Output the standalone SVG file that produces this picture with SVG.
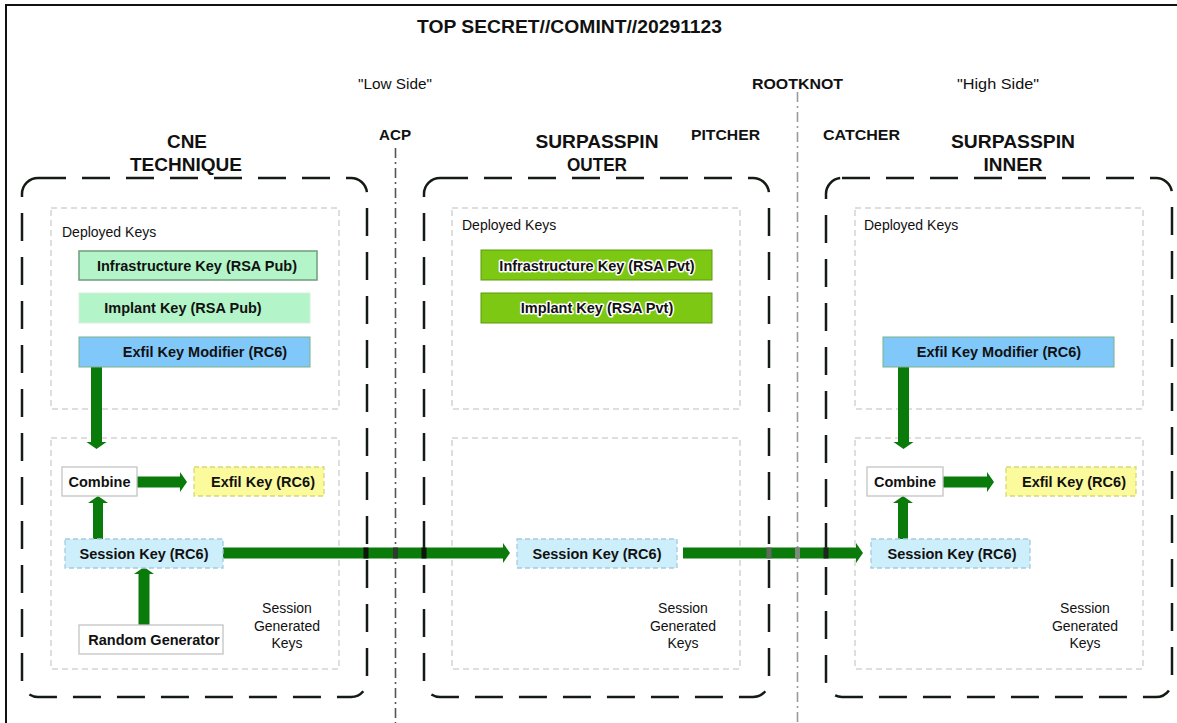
<svg xmlns="http://www.w3.org/2000/svg" width="1177" height="723" viewBox="0 0 1177 723">
  <style>
    .t { font-family: "Liberation Sans", Arial, sans-serif; fill: #111; }
    .b { font-weight: bold; }
    .hdr { font-size: 18px; font-weight: bold; text-anchor: middle; }
    .lbl { font-size: 15px; text-anchor: middle; }
    .key { font-size: 14.5px; font-weight: bold; text-anchor: middle; }
    .note { font-size: 14px; }
    .sgk { font-size: 14px; text-anchor: middle; }
    .halo { paint-order: stroke; stroke: #fff; stroke-width: 3px; stroke-linejoin: round; }
    .container { fill: none; stroke: #141a14; stroke-width: 2.5; stroke-dasharray: 28 16; }
    .zone { fill: #fff; stroke: #d4d4d4; stroke-width: 1.5; stroke-dasharray: 6 4; }
    .arrow { fill: #0a7a0a; }
    .sep-acp { stroke: #555; stroke-width: 1.6; stroke-dasharray: 10 4 2 4; fill: none; }
    .sep-rk { stroke: #9a9a9a; stroke-width: 1.6; stroke-dasharray: 10 4 2 4; fill: none; }
    .pub { fill: #b3f5c8; }
    .pvt { fill: #7cc812; stroke: #5c9a0c; stroke-width: 1; }
    .mod { fill: #80c8fa; stroke: #7ab08a; stroke-width: 1; }
    .sess { fill: #cdeefb; stroke: #a6cbe0; stroke-width: 1.3; stroke-dasharray: 5 3; }
    .exfil { fill: #fbfb9e; stroke: #d8d87a; stroke-width: 1.3; stroke-dasharray: 5 3; }
    .plain { fill: #fff; stroke: #c4c4c4; stroke-width: 1.3; }
  </style>

  <rect width="1177" height="723" fill="#fff"/>

  <!-- outer page frame (runs past the right and bottom edges) -->
  <rect x="6" y="5" width="1190" height="740" fill="none" stroke="#111" stroke-width="2"/>

  <!-- headings -->
  <g id="headings">
    <text class="t hdr" x="569.5" y="33" textLength="305" lengthAdjust="spacingAndGlyphs">TOP SECRET//COMINT//20291123</text>
    <text class="t lbl" x="395" y="89" textLength="74" lengthAdjust="spacingAndGlyphs">"Low Side"</text>
    <text class="t lbl b" x="797.5" y="89" textLength="91" lengthAdjust="spacingAndGlyphs">ROOTKNOT</text>
    <text class="t lbl" x="998" y="89" textLength="82" lengthAdjust="spacingAndGlyphs">"High Side"</text>
    <text class="t lbl b" x="395" y="140" textLength="32" lengthAdjust="spacingAndGlyphs">ACP</text>
    <text class="t lbl b" x="725.5" y="140" textLength="69" lengthAdjust="spacingAndGlyphs">PITCHER</text>
    <text class="t lbl b" x="861.5" y="140" textLength="77" lengthAdjust="spacingAndGlyphs">CATCHER</text>
    <text class="t hdr" x="187" y="148" textLength="40" lengthAdjust="spacingAndGlyphs">CNE</text>
    <text class="t hdr" x="186" y="171" textLength="112" lengthAdjust="spacingAndGlyphs">TECHNIQUE</text>
    <text class="t hdr" x="597" y="148" textLength="123" lengthAdjust="spacingAndGlyphs">SURPASSPIN</text>
    <text class="t hdr" x="597" y="171" textLength="60" lengthAdjust="spacingAndGlyphs">OUTER</text>
    <text class="t hdr" x="1013" y="148" textLength="124" lengthAdjust="spacingAndGlyphs">SURPASSPIN</text>
    <text class="t hdr" x="1013" y="171" textLength="59" lengthAdjust="spacingAndGlyphs">INNER</text>
  </g>

  <!-- trust boundaries -->
  <g id="boundaries">
    <line class="sep-acp" x1="395.5" y1="148" x2="395.5" y2="723"/>
    <line class="sep-rk" x1="797.5" y1="92" x2="797.5" y2="723"/>
  </g>

  <!-- system containers -->
  <g id="cne-technique">
    <rect class="container" x="22" y="178" width="345" height="519" rx="16"/>
    <rect class="zone" x="51" y="208" width="288" height="201"/>
    <rect class="zone" x="51" y="438" width="288" height="231"/>
    <text class="t note" x="62" y="237">Deployed Keys</text>
    <text class="t sgk" x="287" y="613">Session</text>
    <text class="t sgk" x="287" y="631">Generated</text>
    <text class="t sgk" x="287" y="648">Keys</text>
  </g>
  <g id="surpasspin-outer">
    <rect class="container" x="424" y="178" width="345" height="519" rx="16"/>
    <rect class="zone" x="452" y="208" width="288" height="201"/>
    <rect class="zone" x="452" y="438" width="288" height="231"/>
    <text class="t note" x="462" y="230">Deployed Keys</text>
    <text class="t sgk" x="683" y="613">Session</text>
    <text class="t sgk" x="683" y="631">Generated</text>
    <text class="t sgk" x="683" y="648">Keys</text>
  </g>
  <g id="surpasspin-inner">
    <rect class="container" x="826" y="178" width="346" height="519" rx="16"/>
    <rect class="zone" x="855" y="208" width="288" height="201"/>
    <rect class="zone" x="855" y="438" width="288" height="231"/>
    <text class="t note" x="864" y="230">Deployed Keys</text>
    <text class="t sgk" x="1085" y="613">Session</text>
    <text class="t sgk" x="1085" y="631">Generated</text>
    <text class="t sgk" x="1085" y="648">Keys</text>
  </g>

  <!-- key flow connectors -->
  <g id="connectors">
    <path class="arrow" d="M91 367 V442 H86.5 L96.5 449 L106.5 442 H102 V367 Z"/>
    <path class="arrow" d="M137 476.5 H180 V472 L187 482 L180 492 V487.5 H137 Z"/>
    <path class="arrow" d="M93 539 V503 H88 L98 496 L108 503 H103 V539 Z"/>
    <path class="arrow" d="M138.5 625 V574 H134 L144 567 L154 574 H149.5 V625 Z"/>
    <path class="arrow" d="M223 547.5 H503 V543 L510 553 L503 563 V558.5 H223 Z"/>
    <path class="arrow" d="M683 547.5 H856 V543 L863 553 L856 563 V558.5 H683 Z"/>
    <path class="arrow" d="M898 367 V442 H893.5 L903.5 449 L913.5 442 H909 V367 Z"/>
    <path class="arrow" d="M943 476.5 H987 V472 L994 482 L987 492 V487.5 H943 Z"/>
    <path class="arrow" d="M898 539 V503 H893 L903 496 L913 503 H908 V539 Z"/>
    <!-- boundary strokes passing over the session key channel -->
    <rect x="363.5" y="547.5" width="5" height="11" fill="#0c140c"/>
    <rect x="393" y="547.5" width="5" height="11" fill="#2e3a2e"/>
    <rect x="421.5" y="547.5" width="5" height="11" fill="#0c140c"/>
    <rect x="766.5" y="547.5" width="5" height="11" fill="#5e6a5e"/>
    <rect x="795" y="547.5" width="5" height="11" fill="#7e8a7e"/>
    <rect x="823.5" y="547.5" width="5" height="11" fill="#1c261c"/>
  </g>

  <!-- CNE technique keys -->
  <g id="cne-infrastructure-key">
    <rect x="79" y="251" width="238" height="29" fill="#b3f5c8" stroke="#6f9c7c" stroke-width="1.5"/>
    <text class="t key" x="197" y="270.5">Infrastructure Key (RSA Pub)</text>
  </g>
  <g id="cne-implant-key">
    <rect class="pub" x="79" y="293" width="231" height="30" stroke="#d6eedd" stroke-width="1"/>
    <text class="t key" x="183" y="313">Implant Key (RSA Pub)</text>
  </g>
  <g id="cne-exfil-key-modifier">
    <rect class="mod" x="79" y="337" width="231" height="30"/>
    <text class="t key" x="205" y="357">Exfil Key Modifier (RC6)</text>
  </g>
  <g id="cne-combine">
    <rect class="plain" x="62" y="467" width="75" height="29"/>
    <text class="t key" x="99.5" y="486.5">Combine</text>
  </g>
  <g id="cne-exfil-key">
    <rect class="exfil" x="194" y="467" width="130" height="29"/>
    <text class="t key" x="263" y="486.5">Exfil Key (RC6)</text>
  </g>
  <g id="cne-session-key">
    <rect class="sess" x="65" y="539" width="158" height="29"/>
    <text class="t key" x="144" y="558.5">Session Key (RC6)</text>
  </g>
  <g id="cne-random-generator">
    <rect class="plain" x="79" y="625" width="144" height="29"/>
    <text class="t key" x="154" y="644.5">Random Generator</text>
  </g>

  <!-- SURPASSPIN outer keys -->
  <g id="outer-infrastructure-key">
    <rect class="pvt" x="481" y="250" width="231" height="30"/>
    <text class="t key halo" x="597" y="270.5">Infrastructure Key (RSA Pvt)</text>
  </g>
  <g id="outer-implant-key">
    <rect class="pvt" x="481" y="293" width="231" height="30"/>
    <text class="t key halo" x="597" y="313">Implant Key (RSA Pvt)</text>
  </g>
  <g id="outer-session-key">
    <rect class="sess" x="517" y="539" width="160" height="29"/>
    <text class="t key" x="597" y="558.5">Session Key (RC6)</text>
  </g>

  <!-- SURPASSPIN inner keys -->
  <g id="inner-exfil-key-modifier">
    <rect class="mod" x="883" y="337" width="231" height="30"/>
    <text class="t key" x="999" y="357">Exfil Key Modifier (RC6)</text>
  </g>
  <g id="inner-combine">
    <rect class="plain" x="867" y="467" width="76" height="29"/>
    <text class="t key" x="905" y="486.5">Combine</text>
  </g>
  <g id="inner-exfil-key">
    <rect class="exfil" x="1006" y="467" width="130" height="29"/>
    <text class="t key" x="1074" y="486.5">Exfil Key (RC6)</text>
  </g>
  <g id="inner-session-key">
    <rect class="sess" x="871" y="539" width="159" height="29"/>
    <text class="t key" x="952" y="558.5">Session Key (RC6)</text>
  </g>
</svg>
